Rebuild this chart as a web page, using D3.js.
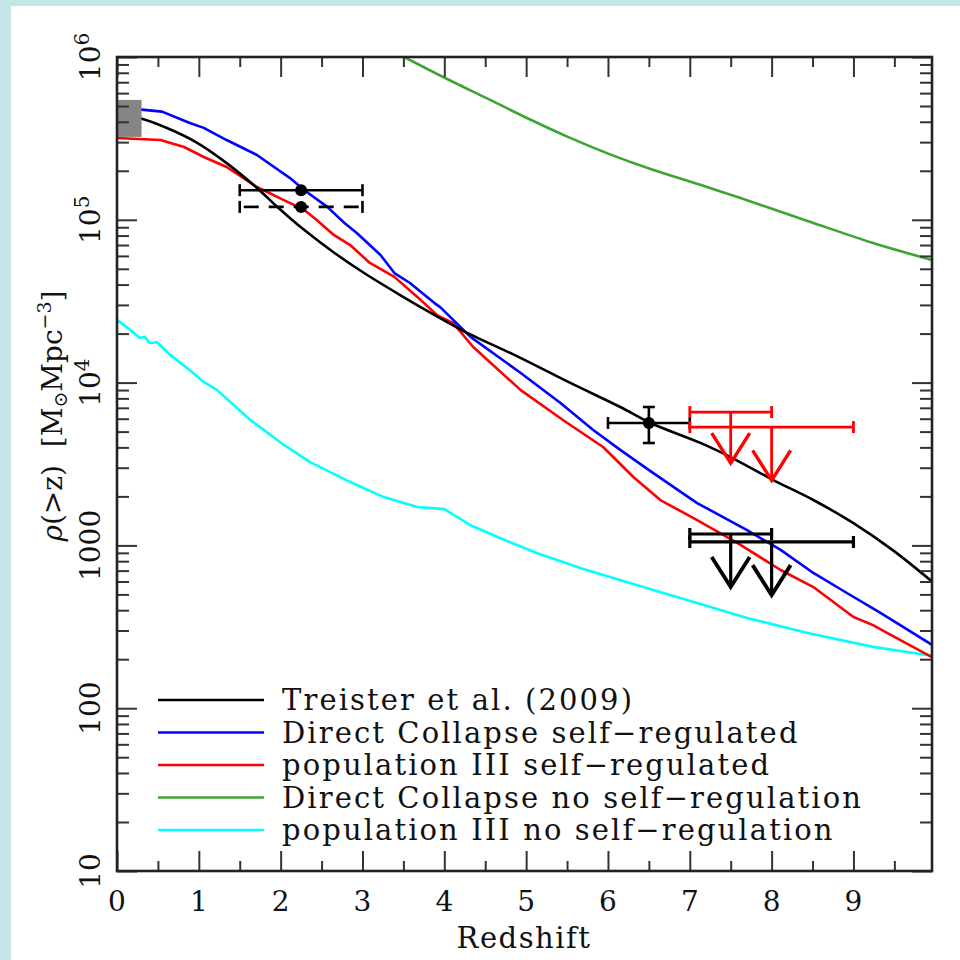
<!DOCTYPE html>
<html><head><meta charset="utf-8">
<script src="https://cdn.jsdelivr.net/npm/d3@7"></script>
<style>body{margin:0;background:#c6e5e9;} svg{display:block}</style>
</head><body><svg id="c" width="960" height="960"></svg>
<script>
// ---------- data ----------
const xTickValues = [0,1,2,3,4,5,6,7,8,9];
const yTickValues = [10,100,1000,1e4,1e5,1e6];
const yTickLabels = [["10",""],["100",""],["1000",""],["10","4"],["10","5"],["10","6"]];

const seriesNames = ["Treister et al. (2009)","Direct Collapse self\u2212regulated","population III self\u2212regulated","Direct Collapse no self\u2212regulation","population III no self\u2212regulation"];
const seriesColors = ["#000000","#0000ff","#ff0000","#3aa535","#00ffff"];

const treisterZ = [0,0.28,0.61,0.98,1.34,1.71,1.96,2.29,2.65,3.02,3.46,3.91,4.23,4.93,5.54,6.15,6.52,7.13,7.52,8.02,8.51,9.0,9.48,9.96];
const treisterV = [4.4e5,4.2e5,3.66e5,2.97e5,2.23e5,1.57e5,1.20e5,8.65e4,6.3e4,4.71e4,3.45e4,2.55e4,2.08e4,1.42e4,9950,7080,5650,4260,3440,2520,1900,1370,935,600];

const dcSelfZ = [0,0.3,0.55,0.89,1.06,1.34,1.71,1.92,2.11,2.29,2.57,2.78,2.93,3.22,3.39,3.58,3.88,3.95,4.32,4.93,5.42,5.82,6.15,6.55,7.09,7.70,8.11,8.51,8.92,9.33,9.96];
const dcSelfV = [4.86e5,4.75e5,4.62e5,3.93e5,3.67e5,3.09e5,2.50e5,2.11e5,1.81e5,1.52e5,1.20e5,9.55e4,8.3e4,6.08e4,4.71e4,4.09e4,3.08e4,2.91e4,1.91e4,1.15e4,7500,5120,3860,2790,1820,1240,938,677,510,385,245];

const p3SelfZ = [0,0.53,0.82,1.06,1.34,1.71,2.04,2.29,2.44,2.65,2.85,3.09,3.39,3.67,3.91,4.11,4.35,4.93,5.45,5.94,6.31,6.64,7.09,7.58,8.11,8.51,9.0,9.24,9.41,9.96];
const p3SelfV = [3.18e5,3.09e5,2.80e5,2.43e5,2.11e5,1.59e5,1.32e5,1.15e5,9.97e4,8.07e4,7.0e4,5.43e4,4.46e4,3.36e4,2.60e4,2.32e4,1.66e4,9020,5890,4020,2630,1900,1430,1035,706,555,363,324,290,206];

const dcNoZ = [3.51,4.01,4.56,5.01,5.51,6.01,6.52,7.13,7.62,8.44,9.24,9.96];
const dcNoV = [1.0e6,7.43e5,5.45e5,4.22e5,3.23e5,2.54e5,2.05e5,1.64e5,1.36e5,9.84e4,7.2e4,5.66e4];

const p3NoZ = [0,0.16,0.28,0.34,0.40,0.49,0.65,0.89,1.06,1.22,1.63,2.04,2.36,2.85,3.26,3.67,4.0,4.32,4.68,5.13,5.66,6.39,7.13,7.70,8.44,9.24,9.96];
const p3NoV = [2.43e4,2.11e4,1.88e4,1.91e4,1.75e4,1.77e4,1.48e4,1.19e4,1.01e4,9020,5890,4140,3250,2450,1980,1720,1670,1330,1110,898,726,564,437,358,290,238,210];

// local value range (grey box)
const boxZ = [0,0.3];
const boxV = [3.23e5,5.45e5];

// detections with error bars
const detZ = [2.25,2.25,6.5];
const detV = [1.52e5,1.2e5,5650];
const detZlo = [1.5,1.5,6.0];
const detZhi = [3.0,3.0,7.0];
const detVlo = [null,null,4255];
const detVhi = [null,null,7080];
const detDashed = [false,true,false];

// upper limits
const limZ = [7.5,8.0,7.5,8.0];
const limZlo = [7,7,7,7];
const limZhi = [8,9,8,9];
const limV = [6590,5330,1175,1050];
const limTipV = [3200,2510,555,495];
const limColor = ["#ff0000","#ff0000","#000000","#000000"];

// ---------- layout ----------
const svg = d3.select("#c");
const FONT = "DejaVu Serif";
svg.append("rect").attr("width",960).attr("height",960).attr("fill","#c6e5e9");
svg.append("rect").attr("x",11).attr("y",6).attr("width",949).attr("height",954).attr("fill","#ffffff");

const L=117, T=57, W=815, H=814;
const g = svg.append("g").attr("transform",`translate(${L},${T})`);
const x = d3.scaleLinear().domain([0,9.96]).range([0,W]);
const y = d3.scaleLog().domain([10,1e6]).range([H,0]);

g.append("clipPath").attr("id","clip").append("rect").attr("width",W).attr("height",H);
const plot = g.append("g").attr("clip-path","url(#clip)");

const series = [
  {z:treisterZ,v:treisterV,curve:d3.curveCatmullRom.alpha(0.5)},
  {z:dcSelfZ,v:dcSelfV,curve:d3.curveLinear},
  {z:p3SelfZ,v:p3SelfV,curve:d3.curveLinear},
  {z:dcNoZ,v:dcNoV,curve:d3.curveCatmullRom.alpha(0.5)},
  {z:p3NoZ,v:p3NoV,curve:d3.curveLinear}
];
const drawOrder=[4,3,2,1,0];
drawOrder.forEach(i=>{
  const s=series[i];
  const pts=s.z.map((z,k)=>[z,s.v[k]]);
  plot.append("path").attr("d",d3.line().x(d=>x(d[0])).y(d=>y(d[1])).curve(s.curve)(pts))
    .attr("fill","none").attr("stroke",seriesColors[i]).attr("stroke-width",2.6).attr("stroke-linejoin","round");
});

// grey box
plot.append("rect").attr("x",x(boxZ[0])).attr("y",y(boxV[1])).attr("width",x(boxZ[1])-x(boxZ[0])).attr("height",y(boxV[0])-y(boxV[1])).attr("fill","#858585");

// detections
const cap=6;
detZ.forEach((z,i)=>{
  const gg=plot.append("g").attr("stroke","#000").attr("stroke-width",2.6);
  const yy=y(detV[i]);
  const hl=gg.append("line").attr("x1",x(detZlo[i])).attr("x2",x(detZhi[i])).attr("y1",yy).attr("y2",yy);
  if(detDashed[i]) hl.attr("stroke-dasharray","15,10").attr("stroke-dashoffset",-4);
  [detZlo[i],detZhi[i]].forEach(zz=>gg.append("line").attr("x1",x(zz)).attr("x2",x(zz)).attr("y1",yy-cap).attr("y2",yy+cap));
  if(detVlo[i]!==null){
    gg.append("line").attr("x1",x(z)).attr("x2",x(z)).attr("y1",y(detVlo[i])).attr("y2",y(detVhi[i]));
    [detVlo[i],detVhi[i]].forEach(vv=>gg.append("line").attr("x1",x(z)-cap).attr("x2",x(z)+cap).attr("y1",y(vv)).attr("y2",y(vv)));
  }
  plot.append("circle").attr("cx",x(z)).attr("cy",yy).attr("r",6).attr("fill","#000");
});

// upper limits
limZ.forEach((z,i)=>{
  const c=limColor[i];
  const sw = c==="#000000"?3.2:2.8;
  const gg=plot.append("g").attr("stroke",c).attr("stroke-width",sw).attr("fill","none");
  const yy=y(limV[i]);
  gg.append("line").attr("x1",x(limZlo[i])).attr("x2",x(limZhi[i])).attr("y1",yy).attr("y2",yy);
  [limZlo[i],limZhi[i]].forEach(zz=>gg.append("line").attr("x1",x(zz)).attr("x2",x(zz)).attr("y1",yy-cap).attr("y2",yy+cap));
  const tip=y(limTipV[i]);
  gg.append("line").attr("x1",x(z)).attr("x2",x(z)).attr("y1",yy).attr("y2",tip);
  gg.append("path").attr("d",`M${x(z)-19},${tip-30}L${x(z)},${tip}L${x(z)+19},${tip-30}`).attr("stroke-width",sw+0.6).attr("stroke-linejoin","miter");
});

// axes (ticks inward)
const minorX = d3.range(0.5,10,1);
const minorY = [];
[10,100,1000,1e4,1e5].forEach(d=>{for(let k=2;k<10;k++) minorY.push(d*k);});
function styleAxis(sel){ sel.select(".domain").remove(); sel.selectAll(".tick line").attr("stroke","#333").attr("stroke-width",2); sel.selectAll("text").remove(); }
g.append("g").attr("transform",`translate(0,${H})`).call(d3.axisBottom(x).tickValues(xTickValues).tickSize(-20)).call(styleAxis);
g.append("g").attr("transform",`translate(0,${H})`).call(d3.axisBottom(x).tickValues(minorX).tickSize(-10)).call(styleAxis);
g.append("g").call(d3.axisTop(x).tickValues(xTickValues).tickSize(-20)).call(styleAxis);
g.append("g").call(d3.axisTop(x).tickValues(minorX).tickSize(-10)).call(styleAxis);
g.append("g").call(d3.axisLeft(y).tickValues(yTickValues).tickSize(-20)).call(styleAxis);
g.append("g").call(d3.axisLeft(y).tickValues(minorY).tickSize(-12)).call(styleAxis);
g.append("g").attr("transform",`translate(${W},0)`).call(d3.axisRight(y).tickValues(yTickValues).tickSize(-20)).call(styleAxis);
g.append("g").attr("transform",`translate(${W},0)`).call(d3.axisRight(y).tickValues(minorY).tickSize(-12)).call(styleAxis);
g.append("rect").attr("width",W).attr("height",H).attr("fill","none").attr("stroke","#222").attr("stroke-width",2.6);

// tick labels
xTickValues.forEach(v=>{
  g.append("text").attr("x",x(v)).attr("y",H+40).attr("text-anchor","middle")
    .attr("font-family",FONT).attr("font-size",28).attr("fill","#111").text(v);
});
yTickValues.forEach((v,i)=>{
  const t=g.append("text").attr("transform",`translate(-17,${y(v)}) rotate(-90)`).attr("text-anchor","middle")
    .attr("font-family",FONT).attr("font-size",28).attr("fill","#111");
  t.append("tspan").text(yTickLabels[i][0]);
  if(yTickLabels[i][1]) t.append("tspan").attr("font-size",20).attr("dy",-11).text(yTickLabels[i][1]);
});

// axis titles
svg.append("text").attr("x",524).attr("y",948).attr("text-anchor","middle")
  .attr("font-family",FONT).attr("font-size",29).attr("letter-spacing",1.5).attr("fill","#111").text("Redshift");
const yl=svg.append("text").attr("transform","translate(62,416) rotate(-90)").attr("text-anchor","middle")
  .attr("font-family",FONT).attr("font-size",28).attr("fill","#111");
yl.append("tspan").attr("font-style","italic").text("\u03c1");
yl.append("tspan").text("(>z)\u00a0\u00a0[M");
yl.append("tspan").attr("font-size",19).attr("dy",5).text("\u2299");
yl.append("tspan").attr("dy",-5).text("Mpc");
yl.append("tspan").attr("font-size",19).attr("dy",-11).text("\u22123");
yl.append("tspan").attr("dy",11).text("]");

// legend
seriesNames.forEach((n,i)=>{
  const ly=643+32.5*i;
  g.append("line").attr("x1",41).attr("x2",147).attr("y1",ly).attr("y2",ly).attr("stroke",seriesColors[i]).attr("stroke-width",2.6);
  g.append("text").attr("x",165).attr("y",ly+10).attr("font-family",FONT).attr("font-size",29).attr("letter-spacing",2.1).attr("fill","#111").text(n);
});
</script></body></html>
